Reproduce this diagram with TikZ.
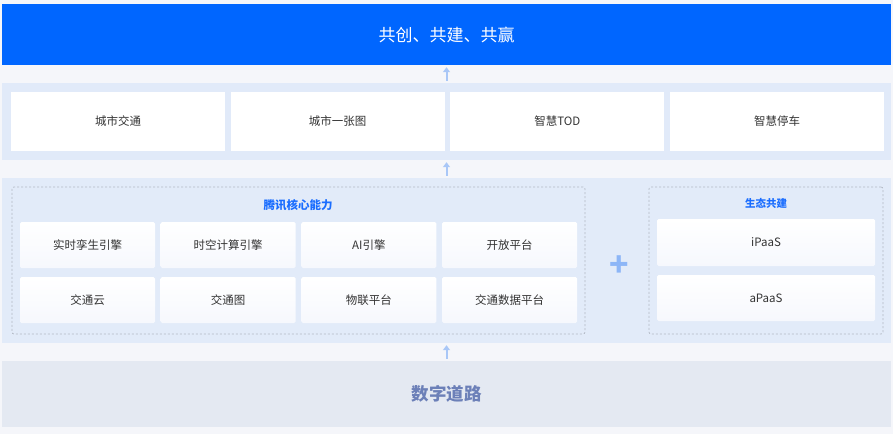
\documentclass[tikz,border=0pt]{standalone}
\usepackage{fontspec}
\setmainfont{Noto Sans CJK SC}
\usetikzlibrary{arrows.meta}
\definecolor{pagebg}{HTML}{F5F6FA}
\definecolor{topblue}{HTML}{0066FF}
\definecolor{bandblue}{HTML}{E1EAF9}
\definecolor{coreblue}{HTML}{E2EBF9}
\definecolor{roadgray}{HTML}{E4E9F2}
\definecolor{roadtext}{HTML}{6C80B8}
\definecolor{titleblue}{HTML}{1A6DFF}
\definecolor{dashgray}{HTML}{B2B8C4}
\definecolor{plusblue}{HTML}{8DB6F7}
\definecolor{flowblue}{HTML}{A9C7F7}
\definecolor{cardtext}{HTML}{333333}
\definecolor{cardbot}{HTML}{F6F8FD}
\tikzset{
  band/.style={inner sep=0pt, minimum width=889pt},
  appbox/.style={inner sep=0pt, fill=white, text=cardtext, font=\fontsize{11.5}{13}\selectfont,
    minimum width=214pt, minimum height=59pt},
  card/.style={inner sep=0pt, top color=white, bottom color=cardbot, rounded corners=1.5pt,
    text=cardtext, font=\fontsize{11.5}{13}\selectfont},
  group/.style={draw=dashgray, dash pattern=on 2pt off 2pt, line width=0.7pt, rounded corners=2pt, inner sep=0pt},
  flow/.style={draw=flowblue, line width=2pt, -{Triangle[width=7pt,length=5pt]}, shorten <=2pt, shorten >=2pt},
}
\begin{document}
\begin{tikzpicture}[x=1pt,y=-1pt, line join=round, line cap=butt]
	\fill[pagebg] (0,0) rectangle (893,434);
	% top goal
	\node[band, fill=topblue, minimum height=61pt, text=white, font=\fontsize{17}{20}\selectfont] (goal) at (446.5,34.5) {共创、共建、共赢};
	% scenarios
	\node[band, fill=bandblue, minimum height=77pt] (apps) at (446.5,121.5) {};
	\foreach \t [count=\i from 0] in {城市交通,城市一张图,智慧TOD,智慧停车}
		\node[appbox] (app\i) at (118+219.67*\i,121.5) {\t};
	% capabilities
	\node[band, fill=coreblue, minimum height=165pt] (core) at (446.5,260.5) {};
	\node[group, minimum width=573pt, minimum height=147pt] (tencent) at (298.5,260.5) {};
	\node[text=titleblue, font=\fontsize{11.5}{13}\selectfont\bfseries] (tencenttitle) at (298,205) {腾讯核心能力};
	\foreach \t [count=\i from 0] in {实时孪生引擎,时空计算引擎,AI引擎,开放平台}
		\node[card, minimum width=135pt, minimum height=46pt] (capA\i) at (87.5+140.67*\i,245) {\t};
	\foreach \t [count=\i from 0] in {交通云,交通图,物联平台,交通数据平台}
		\node[card, minimum width=135pt, minimum height=46pt] (capB\i) at (87.5+140.67*\i,300) {\t};
	\node[text=plusblue, font=\fontsize{32}{32}\selectfont\bfseries] (plus) at (619,266) {+};
	\node[group, minimum width=234pt, minimum height=147pt] (eco) at (766,260.5) {};
	\node[text=titleblue, font=\fontsize{10.5}{12}\selectfont\bfseries] (ecotitle) at (766,203) {生态共建};
	\node[card, minimum width=218pt, minimum height=47pt] (ipaas) at (766,242.5) {iPaaS};
	\node[card, minimum width=218pt, minimum height=46pt] (apaas) at (766,298) {aPaaS};
	% base
	\node[band, fill=roadgray, minimum height=66pt, text=roadtext, font=\fontsize{17.5}{20}\selectfont\bfseries] (road) at (446.5,394) {数字道路};
	% arrows
	\draw[flow] (road.north) -- (core.south);
	\draw[flow] (core.north) -- (apps.south);
	\draw[flow] (apps.north) -- (goal.south);
\end{tikzpicture}
\end{document}
